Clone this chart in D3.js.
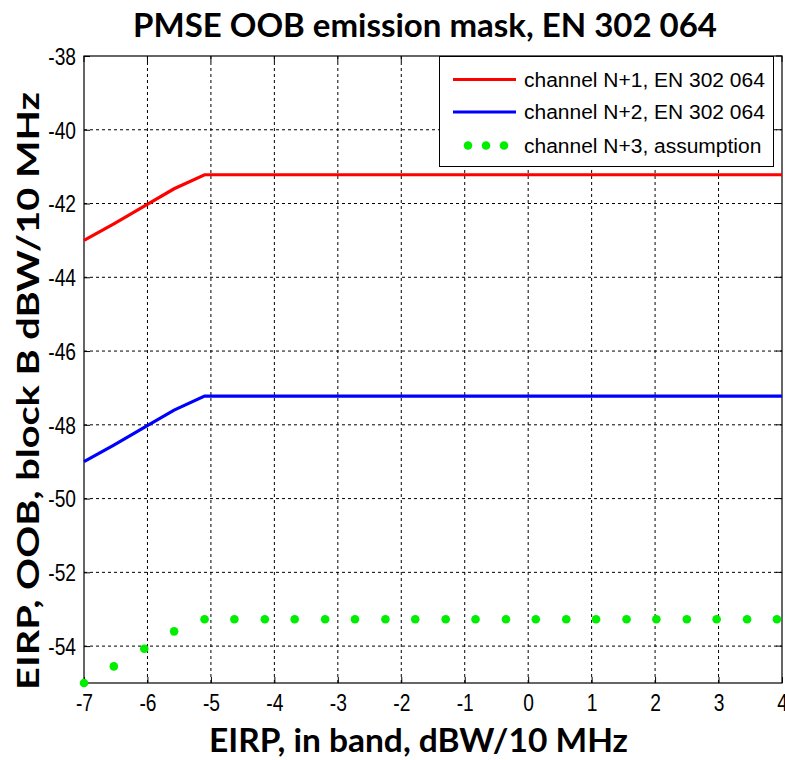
<!DOCTYPE html>
<html><head><meta charset="utf-8">
<script src="https://cdn.jsdelivr.net/npm/d3@7"></script>
<style>body{margin:0;background:#fff}svg{display:block}
.tick text{font-family:'Liberation Sans',Arial,sans-serif;font-size:24px;fill:#000}</style>
</head><body>
<script>
const titleText = "PMSE OOB emission mask, EN 302 064";
const xLabel = "EIRP, in band, dBW/10 MHz";
const yLabel = "EIRP, OOB, block B dBW/10 MHz";
const xTicks = [-7,-6,-5,-4,-3,-2,-1,0,1,2,3,4];
const yTicks = [-38,-40,-42,-44,-46,-48,-50,-52,-54];
const seriesNames = ["channel N+1, EN 302 064","channel N+2, EN 302 064","channel N+3, assumption"];
const n1X = [-7,-6.53,-6.05,-5.58,-5.1,4];
const n1Y = [-43,-42.55,-42.07,-41.6,-41.22,-41.22];
const n2X = [-7,-6.53,-6.05,-5.58,-5.1,4];
const n2Y = [-49,-48.55,-48.07,-47.6,-47.22,-47.22];
const n3X = [-7,-6.53,-6.05,-5.58,-5.1,-4.63,-4.15,-3.68,-3.2,-2.73,-2.25,-1.78,-1.3,-0.83,-0.35,0.12,0.6,1.07,1.55,2.02,2.5,2.97,3.45,3.92];
const n3Y = [-55,-54.55,-54.07,-53.6,-53.27,-53.27,-53.27,-53.27,-53.27,-53.27,-53.27,-53.27,-53.27,-53.27,-53.27,-53.27,-53.27,-53.27,-53.27,-53.27,-53.27,-53.27,-53.27,-53.27];

const W=785,H=760;
const svg=d3.select("body").append("svg").attr("width",W).attr("height",H);
const L=84,R=782,T=56,B=683;
const x=d3.scaleLinear().domain([-7,4]).range([L,R]);
const y=d3.scaleLinear().domain([-55,-38]).range([B,T]);
const tf="'Liberation Sans', Arial, sans-serif";
const bf="Lato, 'Open Sans', sans-serif";
const SX=0.8;

// grid
const g=svg.append("g");
g.selectAll(".vg").data(xTicks.slice(1,-1)).join("line")
 .attr("x1",d=>x(d)).attr("x2",d=>x(d)).attr("y1",T).attr("y2",B)
 .attr("stroke","#000").attr("stroke-width",1).attr("stroke-dasharray","3,3");
g.selectAll(".hg").data(yTicks.slice(1)).join("line")
 .attr("y1",d=>y(d)).attr("y2",d=>y(d)).attr("x1",L).attr("x2",R)
 .attr("stroke","#000").attr("stroke-width",1).attr("stroke-dasharray","3,3");

// axes
const xa=svg.append("g").attr("transform",`translate(0,${B})`)
 .call(d3.axisBottom(x).tickValues(xTicks).tickSize(-6).tickPadding(11).tickFormat(d=>d));
const ya=svg.append("g").attr("transform",`translate(${L},0)`)
 .call(d3.axisLeft(y).tickValues(yTicks).tickSize(-6).tickPadding(8).tickFormat(d=>d));
[xa,ya].forEach(a=>{a.select(".domain").remove();
 a.attr("font-size",24).attr("font-family",tf);
 a.selectAll("text").attr("font-family",tf).attr("font-size",24).style("font-size","24px").attr("fill","#000");
 a.selectAll("line").attr("stroke","#000");});
xa.selectAll("text").attr("transform",`scale(${SX},1)`);
ya.selectAll("text").attr("dy","0.35em").attr("x",-8/SX).attr("transform",`scale(${SX},1)`);
// top/right ticks
svg.append("g").selectAll("line").data(xTicks).join("line")
 .attr("x1",d=>x(d)).attr("x2",d=>x(d)).attr("y1",T).attr("y2",T+6).attr("stroke","#000");
svg.append("g").selectAll("line").data(yTicks).join("line")
 .attr("y1",d=>y(d)).attr("y2",d=>y(d)).attr("x1",R).attr("x2",R-6).attr("stroke","#000");
svg.append("rect").attr("x",L).attr("y",T).attr("width",R-L).attr("height",B-T)
 .attr("fill","none").attr("stroke","#000").attr("stroke-width",1.2);

// series
const line=d3.line().x(d=>x(d[0])).y(d=>y(d[1]));
svg.append("path").datum(n1X.map((v,i)=>[v,n1Y[i]])).attr("d",line)
 .attr("fill","none").attr("stroke","#ff0000").attr("stroke-width",3.2);
svg.append("path").datum(n2X.map((v,i)=>[v,n2Y[i]])).attr("d",line)
 .attr("fill","none").attr("stroke","#0000ff").attr("stroke-width",3.2);
svg.append("g").selectAll("circle").data(n3X.map((v,i)=>[v,n3Y[i]])).join("circle")
 .attr("cx",d=>x(d[0])).attr("cy",d=>y(d[1])).attr("r",4.3).attr("fill","#00ee00");

// legend
const lg=svg.append("g");
lg.append("rect").attr("x",439.5).attr("y",56.5).attr("width",334).attr("height",110)
 .attr("fill","#fff").attr("stroke","#000").attr("stroke-width",1);
const ly=[79.5,112,145.5];
lg.append("line").attr("x1",453).attr("x2",516).attr("y1",ly[0]).attr("y2",ly[0]).attr("stroke","#ff0000").attr("stroke-width",3.2);
lg.append("line").attr("x1",453).attr("x2",516).attr("y1",ly[1]).attr("y2",ly[1]).attr("stroke","#0000ff").attr("stroke-width",3.2);
lg.selectAll(".ld").data([468,486,504]).join("circle").attr("cx",d=>d).attr("cy",ly[2]).attr("r",4.3).attr("fill","#00ee00");
const legTexts=lg.selectAll(".lt").data(seriesNames).join("text")
 .attr("x",0).attr("y",0).attr("dy","0.35em")
 .attr("font-family",tf).attr("font-size",21).attr("fill","#000").text(d=>d);
const lw=legTexts.nodes()[0].getComputedTextLength();
const lsx=241/lw;
legTexts.attr("transform",(d,i)=>`translate(524,${ly[i]}) scale(${lsx},1)`);

// titles, compressed horizontally to match the reference font
function fitX(sel,cx,cy,target,rot){
  const w=sel.node().getComputedTextLength(); const s=target/w;
  sel.attr("text-anchor","middle").attr("transform",`translate(${cx},${cy})${rot?" rotate(-90)":""} scale(${s},1)`);
}
const t=svg.append("text").attr("font-family",bf).attr("font-weight","bold").attr("font-size",33).text(titleText);
fitX(t,(133+717)/2,37,584);
const xl=svg.append("text").attr("font-family",bf).attr("font-weight","bold").attr("font-size",33).text(xLabel);
fitX(xl,(209+628)/2,752,419);
const yl=svg.append("text").attr("font-family",bf).attr("font-weight","bold").attr("font-size",30).text(yLabel);
fitX(yl,39,(92+690)/2,598,true);
</script>
</body></html>
